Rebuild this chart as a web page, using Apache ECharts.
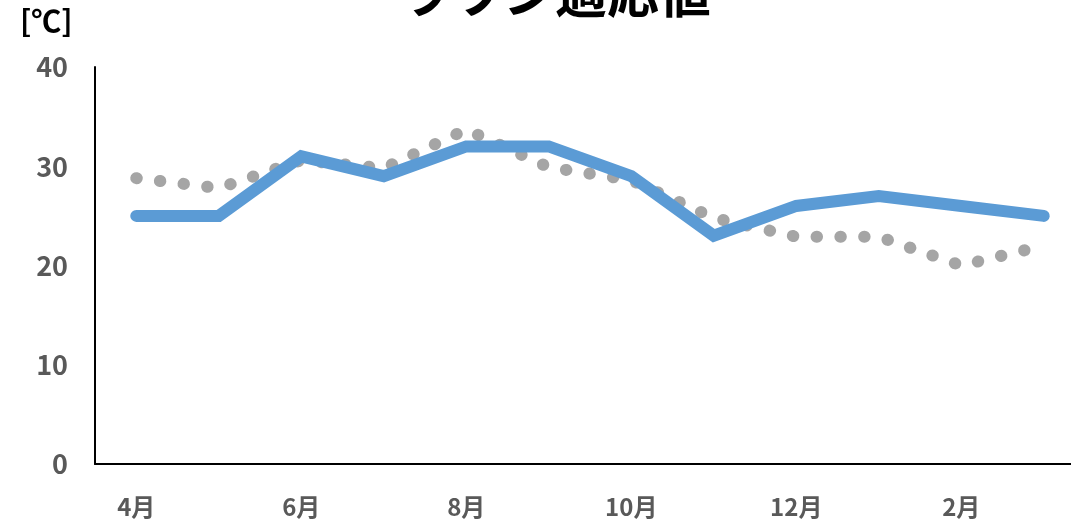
<!DOCTYPE html>
<html>
<head>
<meta charset="utf-8">
<script src="https://cdn.jsdelivr.net/npm/echarts@6/dist/echarts.min.js"></script>
<style>
  html, body { margin: 0; padding: 0; background: #fff; }
  #chartdata { width: 1071px; height: 525px; }
</style>
</head>
<body>
<div id="chartdata"></div>
<script>
// months (fiscal year, Apr - Mar)
var months = ['4月', '5月', '6月', '7月', '8月', '9月', '10月', '11月', '12月', '1月', '2月', '3月']
// blue thick line
var blueVals = [25, 25, 31, 29, 32, 32, 29, 23, 26, 27, 26, 25]
// gray dotted line
var grayVals = [28.8, 27.8, 30.6, 29.8, 33.7, 29.9, 28.6, 24.8, 22.9, 22.9, 20.0, 22.0]
var yTicks = [0, 10, 20, 30, 40]

var chart = echarts.init(document.getElementById('chartdata'))
var font = '"Noto Sans CJK JP", "Noto Sans", sans-serif'

var option = {
  animation: false,
  backgroundColor: '#ffffff',
  grid: {
    left: 95,
    top: 67,
    width: 990,
    height: 397,
    outerBoundsMode: 'none',
    containLabel: false
  },
  graphic: [
    {
      type: 'text',
      left: 20,
      top: 6,
      style: {
        text: '[℃]',
        font: 'bold 30px ' + font,
        fill: '#000000'
      }
    },
    {
      // title, mostly cut off by the top edge
      type: 'text',
      x: 555,
      y: 19,
      style: {
        text: 'ラワン適応値',
        font: 'bold 52px ' + font,
        fill: '#000000',
        align: 'center',
        verticalAlign: 'bottom'
      }
    }
  ],
  xAxis: {
    type: 'category',
    data: months,
    boundaryGap: true,
    axisLine: { lineStyle: { color: '#000000', width: 2 } },
    axisTick: { show: false },
    axisLabel: {
      interval: 1,
      margin: 31,
      color: '#595959',
      fontSize: 24,
      fontWeight: 'bold',
      fontFamily: font
    },
    splitLine: { show: false }
  },
  yAxis: {
    type: 'value',
    min: yTicks[0],
    max: yTicks[yTicks.length - 1],
    interval: 10,
    axisLine: { show: true, lineStyle: { color: '#000000', width: 2 } },
    axisTick: { show: false },
    splitLine: { show: false },
    axisLabel: {
      margin: 27,
      color: '#595959',
      fontSize: 27,
      fontWeight: 'bold',
      fontFamily: font
    }
  },
  series: [
    {
      name: 'gray',
      type: 'line',
      data: grayVals,
      symbol: 'none',
      z: 2,
      lineStyle: {
        color: '#A5A5A5',
        width: 12,
        type: [0.5, 23.3],
        cap: 'round',
        join: 'round'
      }
    },
    {
      name: 'blue',
      type: 'line',
      data: blueVals,
      symbol: 'none',
      z: 3,
      lineStyle: {
        color: '#5B9BD5',
        width: 12,
        cap: 'round',
        join: 'miter'
      }
    }
  ]
}
chart.setOption(option)
</script>
</body>
</html>
